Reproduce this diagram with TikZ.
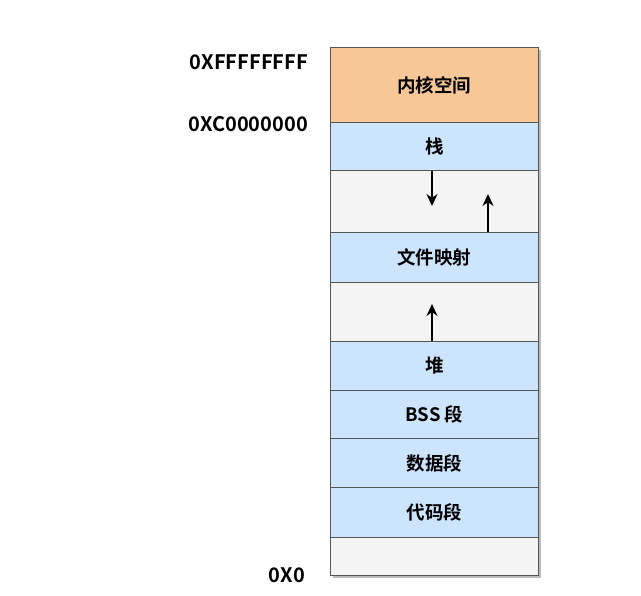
\documentclass[tikz,border=0pt]{standalone}
\usepackage{fontspec}
\setmainfont{Noto Sans CJK SC}[BoldFont={Noto Sans CJK SC Bold}]
\definecolor{kern}{HTML}{F8C797}
\definecolor{seg}{HTML}{CCE4FC}
\definecolor{gap}{HTML}{F4F4F4}
\definecolor{edge}{HTML}{555555}
\usetikzlibrary{arrows.meta}
\tikzset{
  region/.style={draw=edge, line width=0.9pt, minimum width=208pt, inner sep=0pt, anchor=north west, font=\bfseries\fontsize{18.5}{20}\selectfont},
  addr/.style={anchor=east, inner sep=0pt, font=\bfseries\fontsize{20}{22}\selectfont},
  growarrow/.style={-{Stealth[length=12pt,width=11pt]}, line width=1.5pt, black}
}
\begin{document}
\begin{tikzpicture}[x=1pt,y=-1pt]
\useasboundingbox (0,0) rectangle (641,596);
\fill[edge!40] (333,50) rectangle (541,578);
\node[region, fill=kern, minimum height=75pt] (k) at (330,47) {内核空间};
\node[region, fill=seg, minimum height=48pt] (stack) at (330,122) {栈};
\node[region, fill=gap, minimum height=62pt] (g1) at (330,170) {};
\node[region, fill=seg, minimum height=50pt] (mmap) at (330,232) {文件映射};
\node[region, fill=gap, minimum height=59pt] (g2) at (330,282) {};
\node[region, fill=seg, minimum height=49pt] (heap) at (330,341) {堆};
\node[region, fill=seg, minimum height=48pt] (bss) at (330,390) {BSS 段};
\node[region, fill=seg, minimum height=49pt] (data) at (330,438) {数据段};
\node[region, fill=seg, minimum height=50pt] (text) at (330,487) {代码段};
\node[region, fill=gap, minimum height=38pt] (g3) at (330,537) {};
\node[addr] (a1) at (308,62) {0XFFFFFFFF};
\node[addr] (a2) at (308,124) {0XC0000000};
\node[addr] (a3) at (305,575) {0X0};
\coordinate (d1) at (432,206);
\coordinate (u1) at (488,194);
\coordinate (u2) at (432,304);
\draw[growarrow] (stack.south -| d1) -- (d1);
\draw[growarrow] (mmap.north -| u1) -- (u1);
\draw[growarrow] (heap.north -| u2) -- (u2);
\end{tikzpicture}
\end{document}
